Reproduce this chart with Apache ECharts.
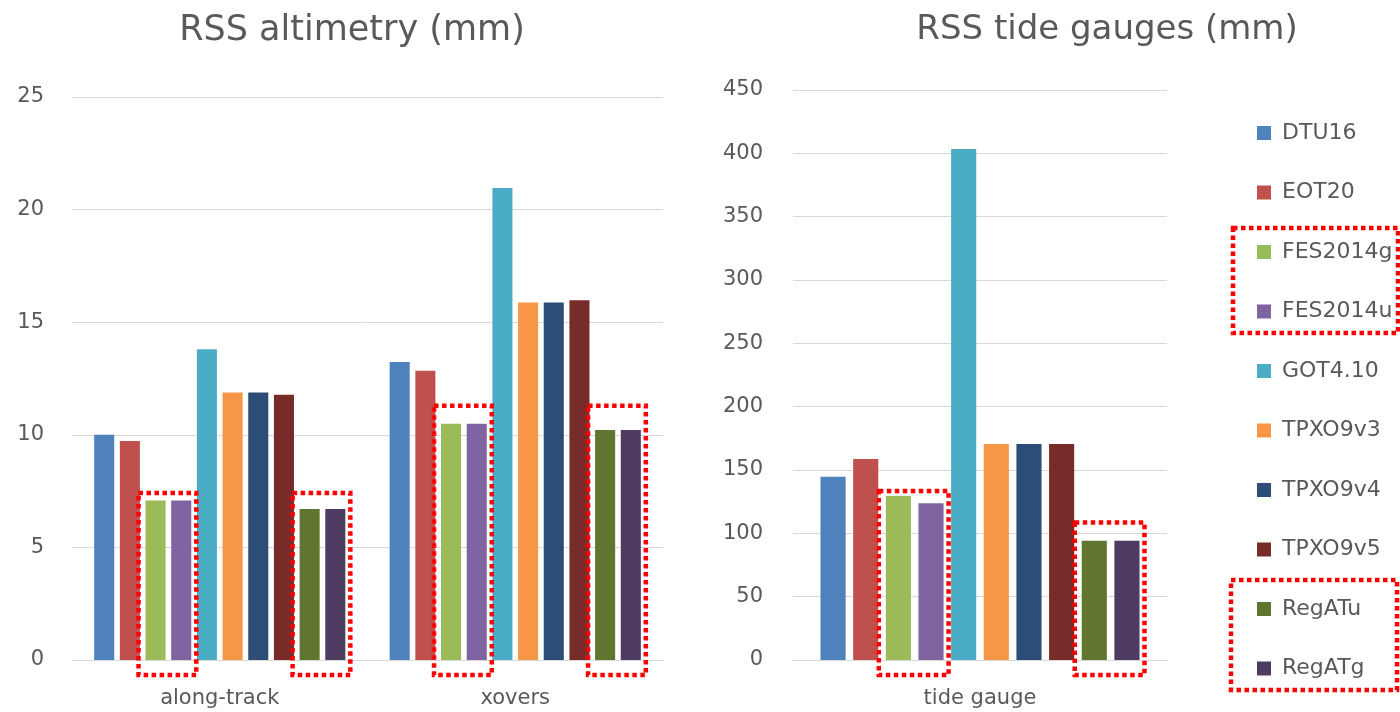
<!DOCTYPE html>
<html>
<head>
<meta charset="utf-8">
<title>RSS altimetry and tide gauges</title>
<script src="https://cdn.jsdelivr.net/npm/echarts@6/dist/echarts.min.js"></script>
<style>
  html, body { margin: 0; padding: 0; background: #ffffff; }
  #chart { width: 1400px; height: 712px; }
</style>
</head>
<body>
<div id="chart"></div>
<script>
// Tide models compared, in legend order
const models = ['DTU16', 'EOT20', 'FES2014g', 'FES2014u', 'GOT4.10', 'TPXO9v3', 'TPXO9v4', 'TPXO9v5', 'RegATu', 'RegATg'];
const modelColors = ['#4F81BD', '#C0504D', '#9BBB59', '#8064A2', '#4BACC6', '#F79646', '#2C4D75', '#772C2A', '#5F7530', '#4D3B62'];

// Categories of each panel
const altimetryCategories = ['along-track', 'xovers'];
const gaugeCategories = ['tide gauge'];

// RSS values (mm), one entry per model
const alongTrack = [10.0, 9.73, 7.08, 7.08, 13.8, 11.88, 11.88, 11.78, 6.70, 6.70];
const xovers = [13.23, 12.84, 10.49, 10.49, 20.96, 15.88, 15.88, 15.97, 10.21, 10.21];
const tideGauge = [144.7, 158.7, 129.5, 123.7, 403.4, 170.5, 170.5, 170.5, 94.2, 94.2];

// Axis ranges
const altimetryTicks = { max: 25, step: 5 };
const gaugeTicks = { max: 450, step: 50 };

// Highlighted model pairs: panel, category, pair of model indices, outline ceiling (axis units)
const highlights = [
  { panel: 0, category: 0, pair: [2, 3], ceiling: 7.42 },
  { panel: 0, category: 0, pair: [8, 9], ceiling: 7.42 },
  { panel: 0, category: 1, pair: [2, 3], ceiling: 11.29 },
  { panel: 0, category: 1, pair: [8, 9], ceiling: 11.29 },
  { panel: 1, category: 0, pair: [2, 3], ceiling: 133.4 },
  { panel: 1, category: 0, pair: [8, 9], ceiling: 108.5 }
];

const FONT = 'DejaVu Sans';
const INK = '#595959';
const RULE = '#d9d9d9';
const DOTTED = { fill: 'none', stroke: '#ff0000', lineWidth: 4.5, lineDash: [4.5, 3.5] };

const chart = echarts.init(document.getElementById('chart'));

function categoryAxis(gridIndex, data) {
  return {
    type: 'category', gridIndex: gridIndex, data: data,
    axisTick: { show: false },
    axisLine: { lineStyle: { color: RULE, width: 1 } },
    axisLabel: { color: INK, fontFamily: FONT, fontSize: 21, margin: 28 }
  };
}

function valueAxis(gridIndex, ticks, margin) {
  return {
    type: 'value', gridIndex: gridIndex, min: 0, max: ticks.max, interval: ticks.step,
    axisLine: { show: false }, axisTick: { show: false },
    splitLine: { lineStyle: { color: RULE, width: 1 } },
    axisLabel: { color: INK, fontFamily: FONT, fontSize: 21, margin: margin }
  };
}

const series = [];
models.forEach(function (name, i) {
  series.push({
    name: name, type: 'bar', xAxisIndex: 0, yAxisIndex: 0,
    data: [alongTrack[i], xovers[i]],
    itemStyle: { color: modelColors[i] },
    barGap: '28%', barCategoryGap: '15%'
  });
});
models.forEach(function (name, i) {
  series.push({
    name: name, type: 'bar', xAxisIndex: 1, yAxisIndex: 1,
    data: [tideGauge[i]],
    itemStyle: { color: modelColors[i] },
    barGap: '30%', barCategoryGap: '14.7%'
  });
});

chart.setOption({
  animation: false,
  backgroundColor: '#ffffff',
  textStyle: { fontFamily: FONT },
  title: [
    { text: 'RSS altimetry (mm)', left: 347, top: 8, textAlign: 'center',
      textStyle: { color: INK, fontFamily: FONT, fontSize: 35, fontWeight: 'normal' } },
    { text: 'RSS tide gauges (mm)', left: 1102, top: 8, textAlign: 'center',
      textStyle: { color: INK, fontFamily: FONT, fontSize: 34, fontWeight: 'normal' } }
  ],
  legend: {
    orient: 'vertical', left: 1252, top: 117,
    data: models, icon: 'rect', itemWidth: 14, itemHeight: 14, itemGap: 37.5,
    selectedMode: false,
    textStyle: { color: INK, fontFamily: FONT, fontSize: 22, lineHeight: 20, padding: [0, 0, 0, 6] }
  },
  grid: [
    { left: 72, top: 97, width: 591, height: 563, containLabel: false },
    { left: 793, top: 90, width: 374, height: 570, containLabel: false }
  ],
  xAxis: [categoryAxis(0, altimetryCategories), categoryAxis(1, gaugeCategories)],
  yAxis: [valueAxis(0, altimetryTicks, 28), valueAxis(1, gaugeTicks, 30)],
  series: series
});

// Dotted outlines around the highlighted model pairs, placed from the bar layouts
const outlines = highlights.map(function (h) {
  const model = chart.getModel();
  const first = model.getSeriesByIndex(h.panel * models.length + h.pair[0]).getData().getItemLayout(h.category);
  const second = model.getSeriesByIndex(h.panel * models.length + h.pair[1]).getData().getItemLayout(h.category);
  const base = Math.max(first.y, first.y + first.height);
  const top = chart.convertToPixel({ yAxisIndex: h.panel }, h.ceiling);
  const x0 = first.x - 7;
  const x1 = second.x + second.width + 5;
  const y1 = base + 15;
  return { type: 'rect', silent: true, z: 100, shape: { x: x0, y: top, width: x1 - x0, height: y1 - top }, style: DOTTED };
});

// Matching outlines around the highlighted legend entries
outlines.push(
  { type: 'rect', silent: true, z: 100, shape: { x: 1233, y: 228, width: 165, height: 105 }, style: DOTTED },
  { type: 'rect', silent: true, z: 100, shape: { x: 1231, y: 580, width: 166, height: 110 }, style: DOTTED }
);

chart.setOption({ graphic: outlines });
</script>
</body>
</html>
